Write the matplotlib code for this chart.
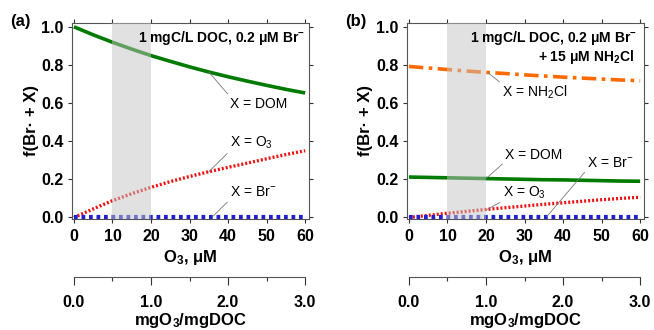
import matplotlib
matplotlib.use("Agg")
import matplotlib.pyplot as plt

plt.rcParams['font.family'] = ['Liberation Sans', 'DejaVu Sans']
plt.rcParams['mathtext.default'] = 'regular'

o3_uM = [0, 5, 10, 15, 20, 25, 30, 35, 40, 45, 50, 55, 60]

# panel (a): 1 mgC/L DOC, 0.2 uM Br-
a_dom = [1.0, 0.958, 0.919, 0.883, 0.849, 0.819, 0.790, 0.763, 0.738, 0.715, 0.693, 0.672, 0.653]
a_o3 = [0.0, 0.045, 0.088, 0.125, 0.158, 0.188, 0.215, 0.240, 0.263, 0.285, 0.308, 0.330, 0.350]
a_br = [0.005] * 13

# panel (b): + 15 uM NH2Cl
b_nh2cl = [0.792, 0.784, 0.776, 0.768, 0.761, 0.755, 0.748, 0.742, 0.736, 0.731, 0.726, 0.721, 0.717]
b_dom = [0.212, 0.210, 0.208, 0.206, 0.204, 0.202, 0.200, 0.198, 0.197, 0.195, 0.193, 0.191, 0.190]
b_o3 = [0.0, 0.011, 0.022, 0.032, 0.042, 0.051, 0.060, 0.069, 0.077, 0.085, 0.093, 0.100, 0.106]
b_br = [0.005] * 13

x_ticks = [0, 10, 20, 30, 40, 50, 60]
y_ticks = [0.0, 0.2, 0.4, 0.6, 0.8, 1.0]
ratio_ticks = [0.0, 1.0, 2.0, 3.0]
ratio_minor = [0.5, 1.5, 2.5]

GREEN = '#007a00'
RED = '#ee1111'
BLUE = '#2020cc'
ORANGE = '#ff6a00'
LEAD = '#777777'

fig = plt.figure(figsize=(6.54, 3.30), dpi=100)

TICK_FS = 11.5
LAB_FS = 12
ANN_FS = 10
COND_FS = 10


def setup_axes(ax):
    ax.set_xlim(-0.5, 61)
    ax.set_ylim(-0.008, 1.02)
    ax.set_xticks(x_ticks)
    ax.set_yticks(y_ticks)
    ax.set_yticklabels([f'{v:.1f}' for v in y_ticks])
    ax.tick_params(direction='out', length=3, width=0.8, top=True, right=True,
                   labeltop=False, labelright=False, labelsize=TICK_FS,
                   color='#333333')
    ax.tick_params(axis='x', pad=4.2)
    ax.tick_params(axis='y', pad=3.0)
    for lab in ax.get_xticklabels() + ax.get_yticklabels():
        lab.set_fontweight('bold')
    for s in ax.spines.values():
        s.set_linewidth(0.8)
        s.set_color('#555555')
    ax.set_xlabel('O$_3$, μM', fontsize=LAB_FS, fontweight='bold', labelpad=3)
    ax.set_ylabel('f(Br· + X)', fontsize=LAB_FS, fontweight='bold', labelpad=2)
    ax.axvspan(10, 20, color='#c4c4c4', alpha=0.5, lw=0, zorder=4)


def lead(ax, text, xy, xytext, relpos):
    ax.annotate(text, xy=xy, xytext=xytext, ha='left', va='center', fontsize=ANN_FS,
                arrowprops=dict(arrowstyle='-', color=LEAD, lw=0.6, relpos=relpos,
                                shrinkA=0, shrinkB=0), zorder=6)


def ratio_axis(left, width):
    ax2 = fig.add_axes([left, 0.1606, width, 0.0001])
    ax2.set_xlim(-0.025, 3.05)
    ax2.set_ylim(0, 1)
    for k in ['top', 'left', 'right']:
        ax2.spines[k].set_visible(False)
    ax2.spines['bottom'].set_bounds(0, 3)
    ax2.spines['bottom'].set_linewidth(0.8)
    ax2.spines['bottom'].set_color('#555555')
    ax2.set_yticks([])
    ax2.set_xticks(ratio_ticks)
    ax2.set_xticklabels([f'{v:.1f}' for v in ratio_ticks])
    ax2.set_xticks(ratio_minor, minor=True)
    ax2.tick_params(axis='x', which='major', direction='out', length=6, width=0.8,
                    labelsize=TICK_FS, pad=7, color='#333333')
    ax2.tick_params(axis='x', which='minor', direction='out', length=3, width=0.8,
                    color='#333333')
    for lab in ax2.get_xticklabels():
        lab.set_fontweight('bold')
    ax2.set_xlabel('mgO$_3$/mgDOC', fontsize=LAB_FS, fontweight='bold', labelpad=1)
    ax2.patch.set_visible(False)


# ---- panel (a)
axa = fig.add_axes([0.1101, 0.3364, 0.3624, 0.5939])
axa.plot(o3_uM, a_dom, color=GREEN, lw=2.6, solid_capstyle='butt', zorder=3)
axa.plot(o3_uM, a_o3, color=RED, lw=2.4, ls=(0, (0.6, 0.6)), zorder=3)
axa.plot(o3_uM, a_br, color=BLUE, lw=3.0, ls=(0, (0.9, 0.9)), zorder=3, clip_on=False)
setup_axes(axa)
axa.text(60, 0.942, '1 mgC/L DOC, 0.2 μM Br$^{-}$', ha='right', va='center',
         fontsize=COND_FS, fontweight='bold', zorder=6)
lead(axa, 'X = DOM', (35, 0.763), (40.5, 0.597), (0.0, 1.0))
lead(axa, 'X = O$_3$', (35, 0.240), (40.5, 0.393), (0.0, 0.0))
lead(axa, 'X = Br$^{-}$', (36, 0.005), (40.5, 0.131), (0.0, 0.0))
fig.text(0.015, 0.935, '(a)', fontsize=12, fontweight='bold', ha='left', va='center')
ratio_axis(0.1101, 0.3624)

# ---- panel (b)
axb = fig.add_axes([0.6223, 0.3364, 0.3624, 0.5939])
axb.plot(o3_uM, b_nh2cl, color=ORANGE, lw=2.6, ls=(0, (4.0, 1.5, 1.0, 1.5)), zorder=3)
axb.plot(o3_uM, b_dom, color=GREEN, lw=2.6, solid_capstyle='butt', zorder=3)
axb.plot(o3_uM, b_o3, color=RED, lw=2.4, ls=(0, (0.6, 0.6)), zorder=3)
axb.plot(o3_uM, b_br, color=BLUE, lw=3.0, ls=(0, (0.9, 0.9)), zorder=3, clip_on=False)
setup_axes(axb)
axb.text(59.3, 0.942, '1 mgC/L DOC, 0.2 μM Br$^{-}$', ha='right', va='center',
         fontsize=COND_FS, fontweight='bold', zorder=6)
axb.text(58.3, 0.843, '+ 15 μM NH$_2$Cl', ha='right', va='center',
         fontsize=COND_FS, fontweight='bold', zorder=6)
lead(axb, 'X = NH$_2$Cl', (20.5, 0.760), (24.2, 0.654), (0.0, 1.0))
lead(axb, 'X = DOM', (20, 0.204), (25.0, 0.330), (0.0, 0.0))
lead(axb, 'X = Br$^{-}$', (35.8, 0.005), (46.2, 0.288), (0.0, 0.0))
lead(axb, 'X = O$_3$', (20.3, 0.042), (24.4, 0.131), (0.0, 0.0))
fig.text(0.527, 0.935, '(b)', fontsize=12, fontweight='bold', ha='left', va='center')
ratio_axis(0.6223, 0.3624)

fig.savefig('out.png', dpi=100)
